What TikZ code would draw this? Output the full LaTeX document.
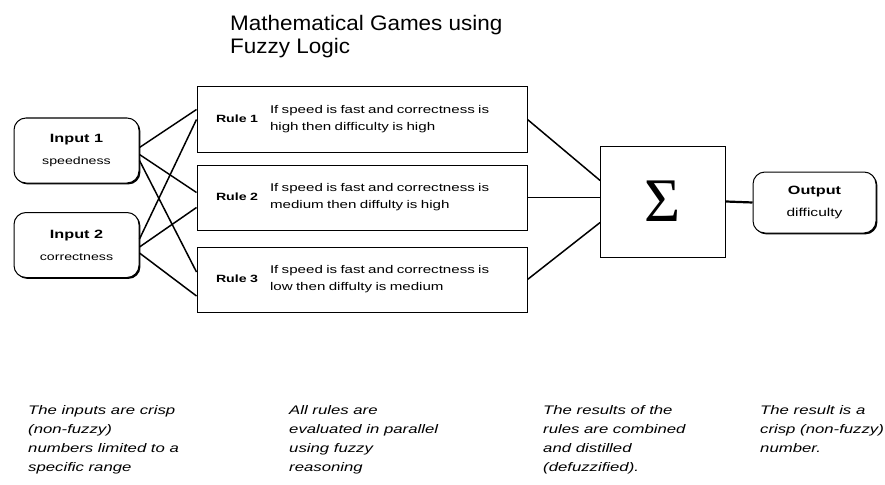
\documentclass[tikz,border=0pt]{standalone}
\usepackage{fontspec}
\setmainfont{Liberation Sans}[FakeStretch=1.35]
\newfontfamily\titlefont{Liberation Sans}[FakeStretch=1.07]
\newfontfamily\sigmafont{Liberation Serif}
\usetikzlibrary{shadows, positioning, calc}

\begin{document}
\begin{tikzpicture}[x=1pt,y=-1pt,
  boite/.style={draw,line width=1pt,fill=white,drop shadow={shadow xshift=1.4pt,shadow yshift=-1.4pt,opacity=1,fill=black}},
  entree/.style={boite,rounded corners=12pt,minimum width=125pt,minimum height=65pt,align=center,inner sep=0pt,font=\fontsize{12}{20}\selectfont},
  regle/.style={boite,minimum width=330pt,minimum height=65pt,text width=292pt,inner xsep=19pt,inner ysep=0pt,align=left},
  lien/.style={line width=1.5pt},
  legende/.style={anchor=north west,align=left,inner sep=0pt,font=\fontsize{12.4}{19}\selectfont\itshape}]
\useasboundingbox (0,0) rectangle (885,484);
\node[anchor=north west,align=left,inner sep=0pt,font=\titlefont\fontsize{21}{23}\selectfont] (titre) at (230,15) {Mathematical Games using\\Fuzzy Logic};
% inputs
\node[entree] (in_1) at (76.5,150.5) {{\bfseries Input 1}\\[2pt]{\fontsize{10.5}{12}\selectfont speedness}};
\node[entree] (in_2) at (76.5,245) {{\bfseries Input 2}\\[2pt]{\fontsize{10.5}{12}\selectfont correctness}};
% rules
\node[regle] (rule_1) at (362,119.5) {\makebox[54pt][l]{\fontsize{10.5}{12}\selectfont\bfseries Rule 1}\parbox[c]{236pt}{\fontsize{11.2}{17}\selectfont If speed is fast and correctness is\\high then difficulty is high}};
\node[regle] (rule_2) at (362,197.5) {\makebox[54pt][l]{\fontsize{10.5}{12}\selectfont\bfseries Rule 2}\parbox[c]{236pt}{\fontsize{11.2}{17}\selectfont If speed is fast and correctness is\\medium then diffulty is high}};
\node[regle] (rule_3) at (362,279.5) {\makebox[54pt][l]{\fontsize{10.5}{12}\selectfont\bfseries Rule 3}\parbox[c]{236pt}{\fontsize{11.2}{17}\selectfont If speed is fast and correctness is\\low then diffulty is medium}};
% sum and output
\node[draw,line width=0.8pt,minimum width=125pt,minimum height=111pt,inner sep=0pt] (somme) at (663,201.5) {\sigmafont\fontsize{62}{62}\selectfont Σ};
\node[entree,minimum width=123pt,minimum height=61pt] (sortie) at (814.5,202.5) {{\bfseries Output}\\[2pt]{\fontsize{11.5}{12}\selectfont difficulty}};
\draw[lien] ([yshift=3pt]in_1.east) -- ([yshift=10pt]rule_1.west);
\draw[lien] ([yshift=-4pt]in_1.east) -- ([yshift=5pt]rule_2.west);
\draw[lien] ([yshift=-10pt]in_1.east) -- ([yshift=7.5pt]rule_3.west);
\draw[lien] ([yshift=6pt]in_2.east) -- (rule_1.west);
\draw[lien] ([yshift=-2pt]in_2.east) -- ([yshift=-10pt]rule_2.west);
\draw[lien] ([yshift=-8pt]in_2.east) -- ([yshift=-16.5pt]rule_3.west);
\draw[lien] (rule_1.east) -- ([yshift=21pt]somme.west);
\draw[lien] (rule_2.east) -- (rule_2.east -| somme.west);
\draw[lien] (rule_3.east) -- ([yshift=-21pt]somme.west);
\draw[line width=2.2pt] (somme.east) -- (sortie.west);
% notes
\node[legende] (note_1) at (28,405) {The inputs are crisp\\(non-fuzzy)\\numbers limited to a\\specific range};
\node[legende] (note_2) at (289,405) {All rules are\\evaluated in parallel\\using fuzzy\\reasoning};
\node[legende] (note_3) at (543,405) {The results of the\\rules are combined\\and distilled\\(defuzzified).};
\node[legende] (note_4) at (760,405) {The result is a\\crisp (non-fuzzy)\\number.};
\end{tikzpicture}
\end{document}
